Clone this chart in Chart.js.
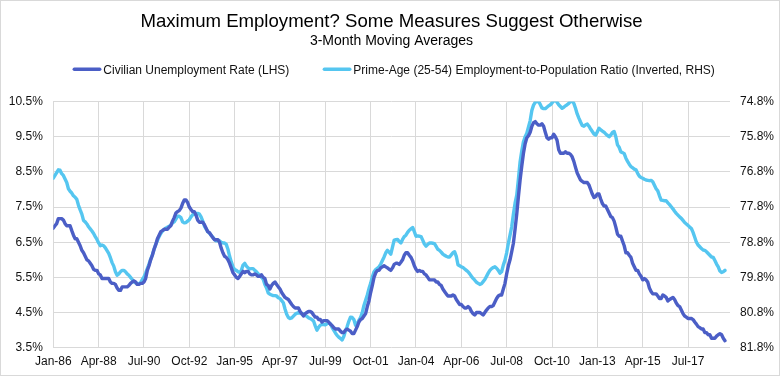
<!DOCTYPE html>
<html>
<head>
<meta charset="utf-8">
<script src="https://cdn.jsdelivr.net/npm/chart.js@4.4.1/dist/chart.umd.min.js"></script>
<style>
html,body{margin:0;padding:0;background:#ffffff;}
#wrap{position:relative;width:783px;height:378px;}
</style>
</head>
<body>
<div id="wrap"><canvas id="c"></canvas></div>
<script>
// ---- text ----
const titleText = 'Maximum Employment? Some Measures Suggest Otherwise';
const subtitleText = '3-Month Moving Averages';
const seriesNames = ['Civilian Unemployment Rate (LHS)', 'Prime-Age (25-54) Employment-to-Population Ratio (Inverted, RHS)'];

// ---- x axis: monthly index from Jan-86; labelled every 27 months ----
const tickLabels = ['Jan-86','Apr-88','Jul-90','Oct-92','Jan-95','Apr-97','Jul-99','Oct-01','Jan-04','Apr-06','Jul-08','Oct-10','Jan-13','Apr-15','Jul-17'];

// ---- series: 3-month moving averages, Jan-1986 .. May-2019 (monthly) ----
const unemploymentRate = [
  6.90,6.97,7.03,7.17,7.17,7.17,7.13,7.03,6.97,6.97,6.97,6.83,
  6.70,6.60,6.60,6.50,6.40,6.27,6.20,6.10,6.00,5.97,5.90,5.83,
  5.73,5.70,5.70,5.60,5.57,5.47,5.47,5.47,5.47,5.47,5.37,5.33,
  5.33,5.30,5.20,5.13,5.13,5.23,5.23,5.23,5.23,5.27,5.33,5.37,
  5.40,5.37,5.30,5.30,5.33,5.33,5.37,5.47,5.70,5.83,6.00,6.13,
  6.30,6.43,6.60,6.70,6.80,6.83,6.87,6.87,6.87,6.93,6.97,7.10,
  7.20,7.33,7.37,7.40,7.47,7.60,7.70,7.70,7.63,7.50,7.43,7.37,
  7.37,7.27,7.13,7.07,7.07,7.07,7.00,6.90,6.80,6.77,6.70,6.63,
  6.57,6.57,6.57,6.50,6.33,6.20,6.10,6.07,6.00,5.90,5.77,5.63,
  5.57,5.50,5.47,5.53,5.60,5.67,5.63,5.67,5.67,5.60,5.57,5.57,
  5.60,5.57,5.53,5.53,5.57,5.50,5.47,5.30,5.27,5.17,5.27,5.33,
  5.37,5.30,5.23,5.17,5.07,5.00,4.93,4.90,4.87,4.80,4.73,4.67,
  4.63,4.63,4.63,4.53,4.47,4.40,4.47,4.50,4.53,4.53,4.50,4.43,
  4.37,4.37,4.30,4.30,4.23,4.27,4.27,4.27,4.23,4.17,4.13,4.07,
  4.03,4.03,4.03,3.97,3.93,3.93,4.00,4.03,4.00,3.97,3.90,3.90,
  4.00,4.10,4.23,4.30,4.33,4.40,4.47,4.67,4.83,5.07,5.27,5.50,
  5.63,5.70,5.70,5.77,5.80,5.83,5.80,5.77,5.73,5.70,5.77,5.87,
  5.90,5.90,5.87,5.93,6.00,6.13,6.20,6.20,6.13,6.07,5.97,5.83,
  5.73,5.67,5.70,5.67,5.67,5.60,5.57,5.50,5.43,5.43,5.43,5.43,
  5.37,5.37,5.30,5.27,5.17,5.10,5.03,4.97,4.97,4.97,5.00,4.97,
  4.87,4.80,4.73,4.73,4.67,4.63,4.63,4.67,4.63,4.53,4.47,4.43,
  4.50,4.50,4.50,4.47,4.43,4.50,4.57,4.63,4.67,4.67,4.70,4.80,
  4.90,4.97,5.00,5.00,5.17,5.33,5.60,5.83,6.00,6.23,6.47,6.87,
  7.30,7.80,8.27,8.67,9.03,9.30,9.47,9.53,9.63,9.80,9.90,9.93,
  9.87,9.83,9.83,9.87,9.80,9.63,9.47,9.43,9.47,9.47,9.57,9.50,
  9.40,9.13,9.03,9.03,9.03,9.07,9.03,9.03,9.00,8.93,8.80,8.63,
  8.47,8.37,8.27,8.23,8.20,8.20,8.20,8.13,8.00,7.87,7.77,7.80,
  7.87,7.87,7.73,7.60,7.53,7.53,7.43,7.33,7.23,7.20,7.10,6.93,
  6.73,6.67,6.67,6.53,6.40,6.20,6.20,6.13,6.07,5.90,5.80,5.70,
  5.70,5.60,5.53,5.43,5.47,5.43,5.37,5.20,5.10,5.03,5.03,5.03,
  4.97,4.90,4.90,5.00,4.97,4.93,4.83,4.87,4.90,4.93,4.87,4.77,
  4.70,4.67,4.57,4.47,4.40,4.37,4.33,4.33,4.33,4.30,4.23,4.17,
  4.10,4.07,4.03,4.03,3.93,3.93,3.87,3.87,3.77,3.77,3.77,3.83,
  3.87,3.90,3.87,3.77,3.70
];

const primeAgeEpop = [
  76.98,76.90,76.82,76.74,76.75,76.85,76.90,77.00,77.10,77.28,77.35,77.40,
  77.48,77.52,77.58,77.75,77.88,78.00,78.18,78.22,78.28,78.36,78.42,78.48,
  78.55,78.64,78.72,78.82,78.90,78.88,78.90,78.96,79.04,79.12,79.24,79.38,
  79.48,79.64,79.74,79.70,79.64,79.60,79.60,79.64,79.70,79.74,79.80,79.86,
  79.92,79.96,79.97,79.99,79.95,79.86,79.79,79.68,79.55,79.42,79.28,79.16,
  79.00,78.86,78.75,78.64,78.55,78.48,78.44,78.40,78.37,78.35,78.31,78.25,
  78.22,78.14,78.06,78.06,78.10,78.22,78.25,78.24,78.20,78.16,78.08,78.02,
  78.00,77.98,77.98,78.00,78.08,78.20,78.34,78.42,78.50,78.54,78.60,78.66,
  78.72,78.76,78.74,78.76,78.80,78.82,78.82,78.86,79.00,79.20,79.36,79.50,
  79.58,79.60,79.64,79.66,79.60,79.45,79.40,79.48,79.53,79.56,79.55,79.55,
  79.60,79.64,79.70,79.74,79.80,79.85,80.00,80.10,80.24,80.28,80.30,80.32,
  80.32,80.33,80.38,80.40,80.46,80.52,80.70,80.85,80.94,80.97,80.95,80.90,
  80.85,80.82,80.80,80.82,80.84,80.84,80.88,80.91,80.95,80.97,81.00,81.04,
  81.18,81.30,81.22,81.16,81.14,81.14,81.15,81.12,81.10,81.12,81.22,81.30,
  81.38,81.45,81.50,81.54,81.58,81.48,81.32,81.20,81.05,80.93,80.94,81.00,
  81.16,81.12,81.02,80.94,80.80,80.60,80.45,80.30,80.12,79.97,79.78,79.64,
  79.58,79.54,79.50,79.42,79.32,79.22,79.10,79.03,79.08,79.14,78.94,78.74,
  78.73,78.72,78.78,78.82,78.72,78.64,78.60,78.52,78.46,78.42,78.38,78.50,
  78.63,78.62,78.63,78.64,78.74,78.85,78.91,78.86,78.82,78.82,78.83,78.84,
  78.92,79.00,79.03,79.08,79.14,79.17,79.20,79.22,79.22,79.16,79.10,79.07,
  79.20,79.44,79.47,79.50,79.52,79.56,79.60,79.64,79.70,79.77,79.83,79.88,
  79.94,79.97,80.00,79.98,79.92,79.86,79.77,79.68,79.60,79.55,79.52,79.50,
  79.54,79.60,79.68,79.64,79.45,79.31,79.10,78.83,78.60,78.36,78.00,77.69,
  77.46,77.00,76.51,76.20,75.94,75.80,75.70,75.52,75.34,75.05,74.90,74.82,
  74.80,74.80,74.88,74.98,75.00,75.00,74.96,74.92,74.89,74.84,74.78,74.76,
  74.82,74.89,74.94,74.99,74.96,74.92,74.89,74.85,74.80,74.78,74.85,74.99,
  75.15,75.27,75.38,75.48,75.50,75.46,75.44,75.50,75.58,75.65,75.72,75.75,
  75.66,75.56,75.60,75.64,75.67,75.72,75.76,75.80,75.75,75.68,75.65,75.80,
  76.03,76.10,76.23,76.25,76.28,76.41,76.50,76.58,76.65,76.68,76.72,76.74,
  76.84,76.92,76.96,76.98,77.01,77.03,77.04,77.05,77.04,77.08,77.18,77.28,
  77.34,77.48,77.60,77.61,77.62,77.62,77.68,77.73,77.79,77.85,77.92,77.98,
  78.03,78.08,78.12,78.18,78.24,78.28,78.32,78.37,78.41,78.52,78.66,78.80,
  78.88,78.93,78.98,79.02,79.03,79.07,79.12,79.17,79.22,79.23,79.32,79.42,
  79.50,79.62,79.66,79.64,79.60
];

const colors = ['#4B5EC6', '#55C6F0'];
const FONT = "'Liberation Sans', Arial, Helvetica, sans-serif";
Chart.defaults.font.family = FONT;
Chart.defaults.color = '#111111';

// outer chart border
const frame = {
  id: 'frame',
  beforeDraw(chart) {
    const ctx = chart.ctx;
    ctx.save();
    ctx.fillStyle = '#ffffff';
    ctx.fillRect(0, 0, chart.width, chart.height);
    ctx.strokeStyle = '#d9d9d9';
    ctx.lineWidth = 1;
    ctx.strokeRect(0.5, 0.5, 779, 375);
    ctx.restore();
  }
};

// legend drawn in the band between subtitle and plot
const lineLegend = {
  id: 'lineLegend',
  afterDraw(chart) {
    const ctx = chart.ctx;
    ctx.save();
    ctx.font = '12px ' + FONT;
    ctx.textBaseline = 'alphabetic';
    ctx.textAlign = 'left';
    let x = 73.3;
    const yLine = 69.3, yText = 74;
    chart.data.datasets.forEach((ds) => {
      ctx.strokeStyle = ds.borderColor;
      ctx.lineWidth = 3.5;
      ctx.lineCap = 'round';
      ctx.beginPath();
      ctx.moveTo(x + 1, yLine);
      ctx.lineTo(x + 26.4, yLine);
      ctx.stroke();
      ctx.fillStyle = '#111111';
      ctx.fillText(ds.label, x + 30, yText);
      x += 30 + ctx.measureText(ds.label).width + 34;
    });
    ctx.restore();
  }
};

const toPoints = arr => arr.map((v, i) => ({x: i, y: v}));

new Chart(document.getElementById('c'), {
  type: 'line',
  data: {
    datasets: [
      {
        label: seriesNames[0],
        data: toPoints(unemploymentRate),
        yAxisID: 'y',
        borderColor: colors[0],
        backgroundColor: colors[0],
        borderWidth: 3.4,
        pointRadius: 0,
        tension: 0,
        borderJoinStyle: 'round',
        borderCapStyle: 'round',
        order: 1
      },
      {
        label: seriesNames[1],
        data: toPoints(primeAgeEpop),
        yAxisID: 'y1',
        borderColor: colors[1],
        backgroundColor: colors[1],
        borderWidth: 3.4,
        pointRadius: 0,
        tension: 0,
        borderJoinStyle: 'round',
        borderCapStyle: 'round',
        order: 2
      }
    ]
  },
  options: {
    responsive: true,
    maintainAspectRatio: false,
    animation: false,
    layout: { padding: { top: 0, left: 0, right: 0, bottom: 0 } },
    plugins: {
      legend: { display: false },
      tooltip: { enabled: false },
      title: {
        display: true,
        text: titleText,
        color: '#000000',
        font: { size: 18.6, weight: 'normal', lineHeight: 1.0 },
        padding: { top: 12.9, bottom: 0 }
      },
      subtitle: {
        display: true,
        text: subtitleText,
        color: '#000000',
        font: { size: 14, weight: 'normal', lineHeight: 1.2 },
        padding: { top: 1.5, bottom: 51.8 }
      }
    },
    scales: {
      x: {
        type: 'linear',
        min: 0,
        max: 403,
        afterFit(s) { s.height = 30.3; },
        grid: { color: '#d9d9d9', lineWidth: 1, drawTicks: false },
        border: { display: false },
        ticks: {
          stepSize: 27,
          includeBounds: false,
          autoSkip: false,
          maxRotation: 0,
          padding: 6.6,
          color: '#111111',
          font: { size: 12 },
          callback(v) { const k = Math.round(v / 27); return (Math.abs(v - k * 27) < 1e-6 && tickLabels[k]) ? tickLabels[k] : ''; }
        }
      },
      y: {
        position: 'left',
        min: 3.5,
        max: 10.5,
        afterFit(s) { s.width = 53.3; },
        grid: { color: '#d9d9d9', lineWidth: 1, drawTicks: false },
        border: { display: false },
        ticks: {
          stepSize: 1,
          padding: 10.5,
          color: '#111111',
          font: { size: 12 },
          callback(v) { return v.toFixed(1) + '%'; }
        }
      },
      y1: {
        position: 'right',
        reverse: true,
        min: 74.8,
        max: 81.8,
        afterFit(s) { s.width = 53; },
        grid: { display: false, drawTicks: false },
        border: { display: false },
        ticks: {
          stepSize: 1,
          padding: 10,
          color: '#111111',
          font: { size: 12 },
          callback(v) { return v.toFixed(1) + '%'; }
        }
      }
    }
  },
  plugins: [frame, lineLegend]
});
</script>
</body>
</html>
